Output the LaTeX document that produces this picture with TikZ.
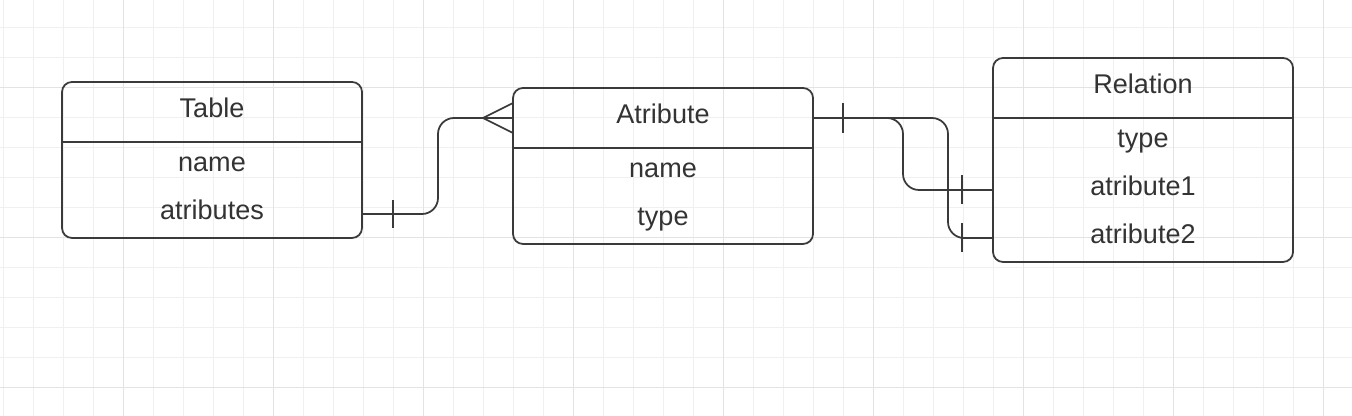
\documentclass[tikz,border=0pt]{standalone}
\usepackage{fontspec}
\setmainfont{Liberation Sans}
\definecolor{erLine}{RGB}{58,58,58}
\definecolor{erText}{RGB}{51,51,51}
\definecolor{gridMinor}{RGB}{240,240,240}
\definecolor{gridMajor}{RGB}{227,227,227}
\usetikzlibrary{positioning,fit}
\tikzset{
  ehead/.style={rectangle,minimum width=6cm,minimum height=1.2cm,
    inner sep=0pt,outer sep=0pt,text=erText,
    text height=0.9em,text depth=0.26em,
    font=\fontsize{15.4}{18}\selectfont},
  erow/.style={ehead,minimum height=0.96cm},
  ebox/.style={rectangle,draw=erLine,line width=1pt,
    rounded corners=0.2cm,inner sep=0pt},
  link/.style={draw=erLine,line width=1pt,rounded corners=0.32cm},
  tick/.style={draw=erLine,line width=1pt},
  gridline/.style={line width=0.55pt}
}

\begin{document}
\begin{tikzpicture}[node distance=0pt]
  \useasboundingbox (0,0) rectangle (27.04,8.32);
  \begin{scope}
    \clip (0,0) rectangle (27.04,8.32);
    \draw[gridline,gridMinor,shift={(0.06,0.58)},step=0.6] (-0.6,-0.6) grid (27.6,8.4);
    \draw[gridline,gridMajor,shift={(2.46,0.58)},step=3] (-3,-3) grid (27,9);
  \end{scope}

  % Table
  \node[ehead] (tblHead) at (4.24,6.08) {Table};
  \node[erow, below=of tblHead] (tblName) {name};
  \node[erow, below=of tblName] (tblAttrs) {atributes};
  \node[ebox, fit=(tblHead)(tblAttrs)] (tbl) {};
  \draw[tick] (tblHead.south west) -- (tblHead.south east);

  % Atribute
  \node[ehead] (attrHead) at (13.26,5.96) {Atribute};
  \node[erow, below=of attrHead] (attrName) {name};
  \node[erow, below=of attrName] (attrType) {type};
  \node[ebox, fit=(attrHead)(attrType)] (attr) {};
  \draw[tick] (attrHead.south west) -- (attrHead.south east);

  % Relation
  \node[ehead] (relHead) at (22.86,6.56) {Relation};
  \node[erow, below=of relHead] (relType) {type};
  \node[erow, below=of relType] (relAttrA) {atribute1};
  \node[erow, below=of relAttrA] (relAttrB) {atribute2};
  \node[ebox, fit=(relHead)(relAttrB)] (rel) {};
  \draw[tick] (relHead.south west) -- (relHead.south east);

  \draw[link] (tblAttrs.east) -- ++(1.52,0) |- (attrHead.west);
  \draw[tick] ([xshift=0.62cm,yshift=-0.28cm]tblAttrs.east) -- ++(0,0.56);
  \draw[tick] ([xshift=-0.6cm]attrHead.west) -- ([yshift=0.3cm]attrHead.west);
  \draw[tick] ([xshift=-0.6cm]attrHead.west) -- ([yshift=-0.3cm]attrHead.west);

  \draw[link] (attrHead.east) -- ++(1.8,0) |- (relAttrA.west);
  \draw[link] (attrHead.east) -- ++(2.7,0) |- (relAttrB.west);
  \draw[tick] ([xshift=0.6cm,yshift=-0.3cm]attrHead.east) -- ++(0,0.6);
  \draw[tick] ([xshift=-0.62cm,yshift=-0.29cm]relAttrA.west) -- ++(0,0.58);
  \draw[tick] ([xshift=-0.62cm,yshift=-0.29cm]relAttrB.west) -- ++(0,0.58);
\end{tikzpicture}
\end{document}
